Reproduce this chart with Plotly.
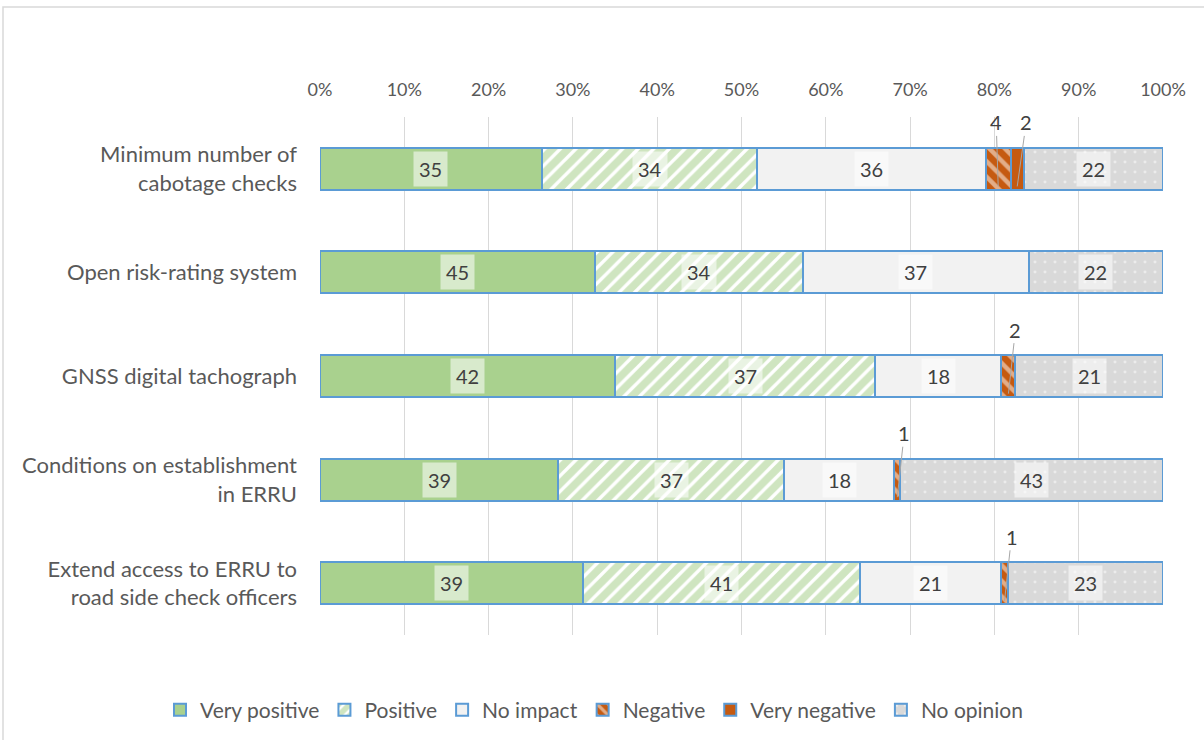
import numpy as np
import plotly.graph_objects as go

categories = [
    "Minimum number of<br>cabotage checks",
    "Open risk-rating system",
    "GNSS digital tachograph",
    "Conditions on establishment<br>in ERRU",
    "Extend access to ERRU to<br>road side check officers",
]
series_names = ["Very positive", "Positive", "No impact", "Negative", "Very negative", "No opinion"]
very_positive = [35, 45, 42, 39, 39]
positive = [34, 34, 37, 37, 41]
no_impact = [36, 37, 18, 18, 21]
negative = [4, 0, 2, 1, 1]
very_negative = [2, 0, 0, 0, 0]
no_opinion = [22, 22, 21, 43, 23]
x_tick_vals = [0, 10, 20, 30, 40, 50, 60, 70, 80, 90, 100]
x_tick_labels = ["0%", "10%", "20%", "30%", "40%", "50%", "60%", "70%", "80%", "90%", "100%"]

series_values = [very_positive, positive, no_impact, negative, very_negative, no_opinion]

ORANGE = "#C55A11"
GREEN = "#A9D18E"
BORDER = "#5B9BD5"
styles = [
    dict(color=GREEN),
    dict(color="white", pattern=dict(shape="/", fgcolor="#9FCC82", bgcolor="white", size=11, solidity=0.7, fillmode="overlay")),
    dict(color="#F2F2F2"),
    dict(color=ORANGE, pattern=dict(shape="\\", fgcolor="white", bgcolor=ORANGE, size=11, solidity=0.4, fillmode="overlay")),
    dict(color=ORANGE),
    dict(color="#D9D9D9", pattern=dict(shape=".", fgcolor="white", bgcolor="#D9D9D9", size=10, solidity=0.07, fillmode="overlay")),
]

FONT = "Lato, Calibri, Carlito, sans-serif"
fig = go.Figure()
for name, vals, st in zip(series_names, series_values, styles):
    fig.add_trace(go.Bar(
        name=name, y=categories, x=vals, orientation="h",
        marker=dict(line=dict(color=BORDER, width=2), **st),
        hoverinfo="skip",
    ))

# labels
arr = np.array(series_values, dtype=float)  # series x categories
totals = arr.sum(axis=0)
pct = arr / totals * 100
cum = np.cumsum(pct, axis=0)
annotations = []
for si in range(arr.shape[0]):
    for ci in range(arr.shape[1]):
        v = arr[si, ci]
        if v == 0:
            continue
        mid = cum[si, ci] - pct[si, ci] / 2
        if v >= 5:
            annotations.append(dict(
                x=mid, y=categories[ci], xref="x", yref="y", text=str(int(v)),
                showarrow=False, bgcolor="rgba(255,255,255,0.55)", borderpad=5,
                font=dict(family=FONT, size=20, color="#404040"),
            ))
        else:
            dx = -2 if si == 3 and ci == 0 else (9 if ci == 0 else 7)
            annotations.append(dict(
                x=mid, y=ci + 0.17, xref="x", yref="y", text=str(int(v)),
                showarrow=True, arrowhead=0, arrowwidth=1, arrowcolor="#A6A6A6",
                ax=dx, ay=-64, standoff=0,
                font=dict(family=FONT, size=20, color="#404040"),
            ))

fig.update_layout(
    width=1204, height=740,
    margin=dict(l=320, r=41, t=117, b=105, autoexpand=False),
    paper_bgcolor="white", plot_bgcolor="white",
    barmode="stack", barnorm="percent", bargap=0.595,
    font=dict(family=FONT, size=18, color="#595959"),
    annotations=annotations,
    showlegend=True,
    legend=dict(
        orientation="h", xref="paper", yref="paper",
        x=(160 - 320) / 843, xanchor="left", y=(635 - 710) / 518, yanchor="middle",
        font=dict(family=FONT, size=21, color="#595959"),
        traceorder="normal", itemwidth=30, tracegroupgap=0,
    ),
    xaxis=dict(
        side="top", range=[0, 100], tickvals=x_tick_vals, ticktext=x_tick_labels,
        showgrid=True, gridcolor="#D9D9D9", gridwidth=1, zeroline=False,
        showline=False, ticks="", tickfont=dict(size=18, color="#595959"),
        ticklabelstandoff=16, fixedrange=True, automargin=False,
    ),
    yaxis=dict(
        range=[4.5, -0.5], autorange=False, showgrid=False, ticks="", ticklabelstandoff=22,
        tickfont=dict(size=22, color="#595959"), fixedrange=True, automargin=False,
    ),
    shapes=[
        dict(type="rect", xref="paper", yref="paper",
             x0=(3 - 320) / 843, x1=(1220 - 320) / 843,
             y0=(635 - 760) / 518, y1=(635 - 7) / 518,
             line=dict(color="#D9D9D9", width=1.5), fillcolor="rgba(0,0,0,0)", layer="below"),
    ],
)

fig.write_html("out.html", config={"displayModeBar": False},
               post_script="document.body.style.margin='0';")
